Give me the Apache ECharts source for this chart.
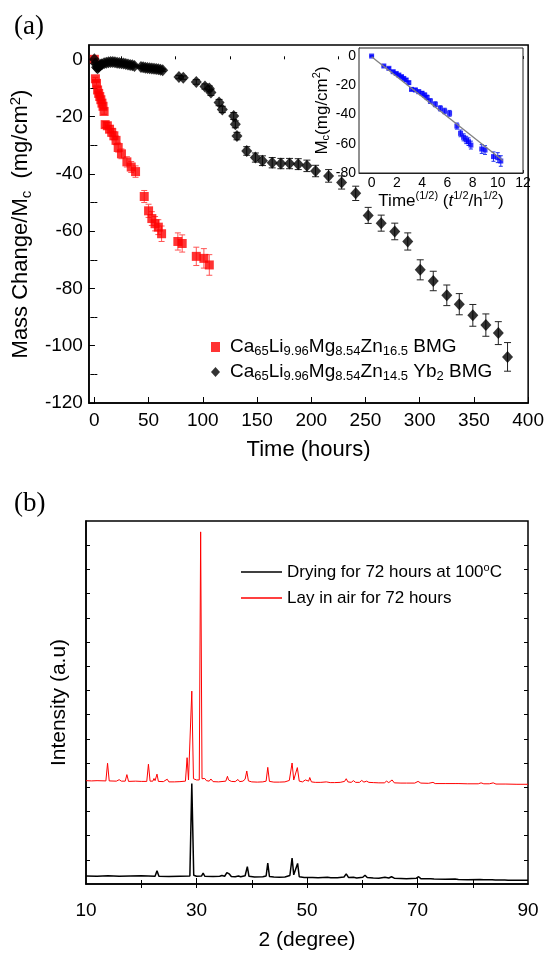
<!DOCTYPE html>
<html><head><meta charset="utf-8">
<script src="https://cdn.jsdelivr.net/npm/echarts@6/dist/echarts.min.js"></script>
<style>html,body{margin:0;padding:0;background:#fff}#c{width:547px;height:956px}</style>
</head><body><div id="c"></div>
<script>
// ---------- Panel (a): mass change vs time ----------
const redT = [0,1,2,3,4,5,6,7,8,9,10,12,14,16,18,20,22,25,30,34,38,46,50,53,56,59,62,77,81,94,101,106];
const redY = [0,-6.8,-8.4,-10.7,-11.9,-13,-14.1,-15.3,-16.4,-18.2,-22.8,-23.2,-24.4,-25.5,-26.7,-28.3,-30.8,-33,-35.8,-37.6,-39.2,-47.9,-52.9,-55.6,-57.4,-58.6,-60.9,-63.6,-64.3,-68.8,-69.5,-71.8];
const redErr = [0.3,0.5,0.6,0.7,0.7,0.8,0.8,0.9,0.9,1.0,1.0,1.1,1.2,1.3,1.4,1.5,1.6,1.7,1.8,1.9,2.0,2.1,2.3,2.4,2.5,2.6,2.7,3.0,3.0,3.2,3.4,3.6];

const blackT = [0,1,2,3,4,5,6,7,9,11,13,15,17,19,21,23,25,27,29,31,33,35,37,43,45,47,49,51,53,55,57,59,61,63,78,82,94,102,106,107.5,115,118,128.5,130,131.5,140.5,148.5,155,164,172,180,188,196,204,216,228,241,252.5,264.5,277,289,300.5,312.5,325,336.5,349,361,372.5,381];
const blackY = [0,-1.5,-2.8,-3.1,-2.6,-2.2,-1.9,-1.7,-1.4,-1.2,-1.0,-0.9,-0.9,-1.0,-1.2,-1.3,-1.4,-1.5,-1.6,-1.8,-2.0,-2.1,-2.3,-2.7,-2.8,-2.9,-3.0,-3.1,-3.2,-3.3,-3.4,-3.5,-3.6,-3.8,-6.2,-6.4,-7.9,-9.5,-10.2,-11.6,-15.1,-17.5,-19.8,-22.7,-26.8,-32,-34.3,-35.4,-36.1,-36.4,-36.4,-36.6,-37.2,-39,-40.7,-43,-46.8,-54.5,-57.2,-60.1,-63.6,-73.5,-77.4,-82.4,-85.5,-89.4,-92.8,-95.6,-103.9];
const blackErr = [0.3,0.3,0.3,0.3,0.3,0.3,0.3,0.3,0.3,0.3,0.3,0.3,0.3,0.3,0.3,0.3,0.3,0.3,0.3,0.3,0.3,0.3,0.3,0.4,0.4,0.4,0.4,0.4,0.4,0.4,0.4,0.4,0.4,0.4,0.6,0.6,0.8,0.9,0.9,1.0,1.1,1.1,1.2,1.2,1.3,1.5,1.6,1.7,1.8,1.8,1.8,1.9,2.0,2.0,2.2,2.3,2.5,2.8,2.8,2.9,3.0,3.5,3.4,3.6,3.7,3.8,3.9,4.0,5.0];

const xTicksA = [0,50,100,150,200,250,300,350,400];
const xMinorA = [25,75,125,175,225,275,325,375];
const yTicksA = [0,-20,-40,-60,-80,-100,-120];
const yMinorA = [-10,-30,-50,-70,-90,-110];

// inset: Mc vs sqrt(time)
const insetX = [0,0.97,1.37,1.71,1.95,2.16,2.37,2.55,2.74,2.95,3.16,3.47,3.74,4.0,4.21,4.4,4.66,5.05,5.45,5.79,6.18,6.76,7.05,7.29,7.5,7.68,7.87,8.73,8.99,9.66,10.0,10.24];
const insetY = redY;
const insetErr = redErr;
const insetFit = [[0,-0.5],[10.4,-71.5]];
const xTicksIn = [0,2,4,6,8,10,12];
const yTicksIn = [0,-20,-40,-60,-80];
const yMinorIn = [-10,-30,-50,-70];

// ---------- Panel (b): XRD ----------
const xrdAir = [[10,4.27],[11,4.26],[12,4.27],[13.6,4.26],[13.9,4.99],[14.2,4.26],[15.5,4.25],[16.0,4.31],[16.4,4.25],[17.1,4.25],[17.4,4.52],[17.7,4.24],[19,4.25],[20,4.24],[21.0,4.24],[21.3,4.95],[21.6,4.25],[22.1,4.25],[22.3,4.36],[22.5,4.27],[22.85,4.54],[23.1,4.24],[24,4.23],[24.7,4.33],[25.0,4.22],[26,4.22],[27,4.23],[28.0,4.25],[28.3,5.22],[28.55,4.3],[28.8,4.35],[29.15,7.97],[29.45,4.35],[30.0,4.3],[30.5,4.3],[30.75,14.55],[31.0,4.35],[31.3,4.28],[31.5,4.36],[31.8,4.27],[32.3,4.25],[32.6,4.34],[33,4.23],[34,4.22],[35.3,4.25],[35.6,4.45],[35.8,4.3],[36.0,4.38],[36.3,4.24],[37.0,4.23],[37.5,4.32],[37.8,4.23],[38.4,4.25],[38.8,4.33],[39.1,4.67],[39.4,4.26],[40,4.22],[41,4.21],[42,4.22],[42.6,4.25],[42.9,4.82],[43.2,4.24],[44,4.21],[45,4.21],[46,4.22],[46.8,4.28],[47.3,5.0],[47.6,4.3],[47.9,4.35],[48.25,4.81],[48.6,4.25],[49.2,4.22],[49.7,4.3],[50.0,4.22],[50.3,4.25],[50.5,4.4],[50.8,4.22],[51.5,4.2],[52.5,4.2],[53.5,4.22],[53.8,4.27],[54.2,4.19],[55,4.19],[56,4.2],[56.8,4.24],[57.1,4.35],[57.4,4.22],[58,4.2],[58.4,4.27],[58.8,4.2],[59.5,4.2],[59.9,4.28],[60.3,4.21],[60.8,4.25],[61.2,4.2],[62,4.19],[63,4.18],[64.0,4.18],[64.4,4.25],[64.8,4.19],[65.4,4.3],[65.8,4.18],[67,4.17],[68,4.17],[69.5,4.17],[70.1,4.24],[70.6,4.17],[72,4.16],[72.8,4.2],[73.2,4.15],[75,4.15],[76.8,4.15],[77.1,4.22],[77.5,4.15],[79,4.14],[81,4.14],[81.5,4.18],[82,4.14],[83,4.14],[83.7,4.18],[84.2,4.13],[86,4.13],[88,4.12],[90,4.12]];
const xrdDry = [[10,0.33],[12,0.32],[14,0.34],[16,0.32],[18,0.33],[20,0.34],[22.5,0.32],[22.85,0.55],[23.2,0.32],[25,0.31],[27,0.32],[28.8,0.33],[29.15,4.15],[29.5,0.36],[30,0.32],[30.9,0.33],[31.2,0.45],[31.5,0.32],[33,0.31],[34.2,0.32],[34.6,0.35],[35.1,0.32],[35.5,0.47],[35.9,0.42],[36.3,0.31],[37,0.3],[37.6,0.33],[38,0.3],[38.8,0.34],[39.2,0.72],[39.5,0.32],[40.5,0.29],[42,0.3],[42.6,0.33],[42.9,0.86],[43.2,0.31],[44,0.29],[45,0.28],[46,0.29],[46.9,0.35],[47.3,1.07],[47.6,0.38],[47.9,0.4],[48.3,0.85],[48.6,0.3],[49.5,0.27],[51,0.27],[52,0.26],[53.7,0.28],[54,0.33],[54.3,0.26],[55.5,0.26],[56.7,0.29],[57.1,0.42],[57.5,0.27],[58.4,0.28],[59,0.25],[60.1,0.28],[60.5,0.36],[60.9,0.27],[62,0.25],[63,0.24],[64.1,0.28],[64.4,0.33],[64.8,0.25],[65.3,0.3],[65.5,0.36],[65.8,0.24],[67,0.23],[68,0.22],[69.8,0.24],[70.2,0.3],[70.6,0.22],[72.4,0.22],[72.7,0.28],[73,0.21],[75,0.2],[76.8,0.21],[77.1,0.27],[77.4,0.19],[79,0.18],[81.3,0.19],[81.6,0.24],[82,0.18],[83.5,0.18],[83.8,0.23],[84.1,0.17],[85.8,0.17],[86.1,0.2],[86.4,0.16],[88,0.16],[90,0.15]];
const xTicksB = [10,30,50,70,90];
const xMajB = [30,50,70];
const xMinB = [20,40,60,80];
const xTopB = [20,30,40,50,60,70,80];
const yTicksB = [1,2,3,4,5,6,7,8,9,10,11,12,13,14];

const nameRed = 'Ca65Li9.96Mg8.54Zn16.5 BMG';
const nameBlack = 'Ca65Li9.96Mg8.54Zn14.5 Yb2 BMG';
const nameDry = 'Drying for 72 hours at 100oC';
const nameAir = 'Lay in air for 72 hours';

const FF = 'Liberation Sans, Arial, sans-serif';
const BLK = '#000';

function pairs(xs, ys){ return xs.map((x,i)=>[x, ys[i]]); }
function errData(xs, ys, es){ return xs.map((x,i)=>[x, ys[i]-es[i], ys[i]+es[i]]); }
function errRender(cap){
  return function(params, api){
    const x = api.value(0), lo = api.value(1), hi = api.value(2);
    const a = api.coord([x, hi]), b = api.coord([x, lo]);
    const col = api.visual('color');
    const st = {stroke: col, lineWidth: 1};
    return {type:'group', children:[
      {type:'line', shape:{x1:a[0],y1:a[1],x2:b[0],y2:b[1]}, style:st},
      {type:'line', shape:{x1:a[0]-cap,y1:a[1],x2:a[0]+cap,y2:a[1]}, style:st},
      {type:'line', shape:{x1:b[0]-cap,y1:b[1],x2:b[0]+cap,y2:b[1]}, style:st}
    ]};
  };
}

function tickAxis(extra){
  return Object.assign({type:'value', splitLine:{show:false},
    axisLine:{show:false}, axisLabel:{show:false}}, extra);
}
const tl = (w)=>({color:BLK, width:w||1});

const rich = (fs, sfs) => ({
  sub:{fontSize:sfs, lineHeight:sfs, verticalAlign:'bottom', fontFamily:FF, color:BLK},
  sup:{fontSize:sfs, lineHeight:sfs, verticalAlign:'top', fontFamily:FF, color:BLK},
  it:{fontSize:fs, fontStyle:'italic', fontFamily:FF, color:BLK}
});

const chart = echarts.init(document.getElementById('c'), null, {renderer:'canvas'});
chart.setOption({
  animation:false,
  backgroundColor:'#fff',
  title:[
    {text:'(a)', left:9, top:8, textStyle:{fontFamily:'Liberation Serif, Times New Roman, serif', fontSize:27, fontWeight:'normal', color:BLK}},
    {text:'(b)', left:9, top:485, textStyle:{fontFamily:'Liberation Serif, Times New Roman, serif', fontSize:27, fontWeight:'normal', color:BLK}}
  ],
  grid:[
    {left:88, top:45, width:442, height:358, show:true, borderColor:BLK, borderWidth:1.5, backgroundColor:'transparent'},
    {left:359, top:48, width:164, height:125, show:true, borderColor:'#222', borderWidth:1, backgroundColor:'#fff', z:3},
    {left:86, top:521, width:442, height:363, show:true, borderColor:BLK, borderWidth:1.5, backgroundColor:'transparent'}
  ],
  legend:[
    {orient:'vertical', left:206, top:331, itemWidth:9, itemHeight:10, itemGap:3,
     data:[{name:nameRed, icon:'rect'},{name:nameBlack, icon:'diamond'}],
     formatter:function(n){
       if(n===nameRed) return '{g| }Ca{sub|65}Li{sub|9.96}Mg{sub|8.54}Zn{sub|16.5} BMG';
       return '{g| }Ca{sub|65}Li{sub|9.96}Mg{sub|8.54}Zn{sub|14.5} Yb{sub|2} BMG';
     },
     textStyle:{fontFamily:FF, fontSize:19, lineHeight:22, color:BLK,
       rich:Object.assign(rich(19,13),{g:{width:5}})}},
    {orient:'vertical', left:236, top:557, itemWidth:41, itemHeight:1.5, itemGap:6,
     data:[{name:nameDry, icon:'rect', itemStyle:{color:'#000'}},{name:nameAir, icon:'rect', itemStyle:{color:'#ff0000'}}],
     formatter:function(n){
       if(n===nameDry) return 'Drying for 72 hours at 100{sup|o}C';
       return n;
     },
     textStyle:{fontFamily:FF, fontSize:17, lineHeight:20, color:BLK, rich:rich(17,11)}}
  ],
  xAxis:[
    {gridIndex:0, type:'value', min:-5, max:400, position:'bottom',
     axisLine:{show:true, onZero:false, lineStyle:tl(1.5)},
     axisTick:{show:true, inside:true, length:6, customValues:xTicksA, lineStyle:tl(1)},
     axisLabel:{show:true, customValues:xTicksA, fontSize:19, fontFamily:FF, color:BLK, margin:8},
     splitLine:{show:false},
     name:'Time (hours)', nameLocation:'middle', nameGap:36,
     nameTextStyle:{fontSize:22, fontFamily:FF, color:BLK}},
    tickAxis({gridIndex:0, min:-5, max:400, position:'bottom',
     axisTick:{show:true, inside:true, length:3, customValues:xMinorA, lineStyle:tl(1)}}),
    {gridIndex:1, type:'value', min:-1, max:12, position:'bottom',
     axisLine:{show:true, onZero:false, lineStyle:{color:'#222', width:1}},
     axisTick:{show:true, inside:true, length:3, customValues:xTicksIn, lineStyle:{color:'#222'}},
     axisLabel:{show:true, customValues:xTicksIn, fontSize:14, fontFamily:FF, color:BLK, margin:3},
     splitLine:{show:false},
     name:'Time{sup|(1/2)} ({it|t}{sup|1/2}/h{sup|1/2})', nameLocation:'middle', nameGap:17,
     nameTextStyle:{fontSize:17, fontFamily:FF, color:BLK, lineHeight:20, rich:rich(17,11)}},
    tickAxis({gridIndex:1, min:-1, max:12, position:'top',
     axisTick:{show:true, inside:true, length:3, customValues:xTicksIn, lineStyle:{color:'#222'}}}),
    {gridIndex:2, type:'value', min:10, max:90, position:'bottom',
     axisLine:{show:true, onZero:false, lineStyle:tl(1.5)},
     axisTick:{show:true, inside:true, length:6, customValues:xMajB, lineStyle:tl(1)},
     axisLabel:{show:true, customValues:xTicksB, fontSize:19, fontFamily:FF, color:BLK, margin:17},
     splitLine:{show:false},
     name:'2 (degree)', nameLocation:'middle', nameGap:46,
     nameTextStyle:{fontSize:21, fontFamily:FF, color:BLK}},
    tickAxis({gridIndex:2, min:10, max:90, position:'bottom',
     axisTick:{show:true, inside:true, length:4, customValues:xMinB, lineStyle:tl(1)}}),
    tickAxis({gridIndex:2, min:10, max:90, position:'top',
     axisTick:{show:true, inside:true, length:4, customValues:xTopB, lineStyle:tl(1)}})
  ],
  yAxis:[
    {gridIndex:0, type:'value', min:-120, max:5, position:'left',
     axisLine:{show:true, onZero:false, lineStyle:tl(1.5)},
     axisTick:{show:true, inside:true, length:6, customValues:yTicksA, lineStyle:tl(1)},
     axisLabel:{show:true, customValues:yTicksA, fontSize:19, fontFamily:FF, color:BLK, margin:6},
     splitLine:{show:false},
     name:'Mass Change/M{sub|c}  (mg/cm{sup|2})', nameLocation:'middle', nameGap:44, nameRotate:90,
     nameTextStyle:{fontSize:22, fontFamily:FF, color:BLK, lineHeight:26, rich:rich(22,15)}},
    tickAxis({gridIndex:0, min:-120, max:5, position:'left',
     axisTick:{show:true, inside:true, length:3, customValues:yMinorA, lineStyle:tl(1)}}),
    tickAxis({gridIndex:0, min:-120, max:5, position:'right',
     axisTick:{show:true, inside:true, length:4, customValues:yTicksA.concat(yMinorA), lineStyle:tl(1)}}),
    {gridIndex:1, type:'value', min:-80, max:5.5, position:'left',
     axisLine:{show:true, onZero:false, lineStyle:{color:'#222', width:1}},
     axisTick:{show:true, inside:true, length:3, customValues:yTicksIn.concat(yMinorIn), lineStyle:{color:'#222'}},
     axisLabel:{show:true, customValues:yTicksIn, fontSize:14, fontFamily:FF, color:BLK, margin:3},
     splitLine:{show:false},
     name:'M{sub|c}(mg/cm{sup|2})', nameLocation:'middle', nameGap:26, nameRotate:90,
     nameTextStyle:{fontSize:17, fontFamily:FF, color:BLK, lineHeight:20, rich:rich(17,11)}},
    tickAxis({gridIndex:1, min:-80, max:5.5, position:'right',
     axisTick:{show:true, inside:true, length:3, customValues:yTicksIn.concat(yMinorIn), lineStyle:{color:'#222'}}}),
    {gridIndex:2, type:'value', min:0, max:15, position:'left',
     axisLine:{show:true, onZero:false, lineStyle:tl(1.5)},
     axisTick:{show:true, inside:true, length:4, customValues:yTicksB, lineStyle:tl(1)},
     axisLabel:{show:false}, splitLine:{show:false},
     name:'Intensity (a.u)', nameLocation:'middle', nameGap:16, nameRotate:90,
     nameTextStyle:{fontSize:21, fontFamily:FF, color:BLK}},
    tickAxis({gridIndex:2, min:0, max:15, position:'right',
     axisTick:{show:true, inside:true, length:4, customValues:yTicksB, lineStyle:tl(1)}})
  ],
  series:[
    {type:'custom', name:'redErr', xAxisIndex:0, yAxisIndex:0, renderItem:errRender(3),
     itemStyle:{color:'#ff5555'}, data:errData(redT, redY, redErr), z:2, silent:true},
    {type:'scatter', name:nameRed, xAxisIndex:0, yAxisIndex:0, symbol:'rect', symbolSize:9,
     itemStyle:{color:'#ff0000'}, data:pairs(redT, redY), z:3},
    {type:'custom', name:'blackErr', xAxisIndex:0, yAxisIndex:0, renderItem:errRender(3.5),
     itemStyle:{color:'#222'}, data:errData(blackT, blackY, blackErr), z:2, silent:true},
    {type:'scatter', name:nameBlack, xAxisIndex:0, yAxisIndex:0, symbol:'diamond', symbolSize:[11,12],
     itemStyle:{color:'#000'}, data:pairs(blackT, blackY), z:4},
    {type:'custom', name:'insetErr', xAxisIndex:2, yAxisIndex:3, renderItem:errRender(2),
     itemStyle:{color:'#2233ee'}, data:errData(insetX, insetY, insetErr), z:5, silent:true},
    {type:'scatter', name:'insetPts', xAxisIndex:2, yAxisIndex:3, symbol:'rect', symbolSize:5,
     itemStyle:{color:'#0000ff'}, data:pairs(insetX, insetY), z:5},
    {type:'line', name:'insetFit', xAxisIndex:2, yAxisIndex:3, symbol:'none',
     lineStyle:{color:'#808080', width:1.3}, data:insetFit, z:6},
    {type:'line', name:nameAir, xAxisIndex:4, yAxisIndex:5, symbol:'none',
     lineStyle:{color:'#ff0000', width:1}, itemStyle:{color:'#ff0000'}, data:xrdAir},
    {type:'line', name:nameDry, xAxisIndex:4, yAxisIndex:5, symbol:'none',
     lineStyle:{color:'#000', width:1.5}, itemStyle:{color:'#000'}, data:xrdDry}
  ]
});
</script></body></html>
